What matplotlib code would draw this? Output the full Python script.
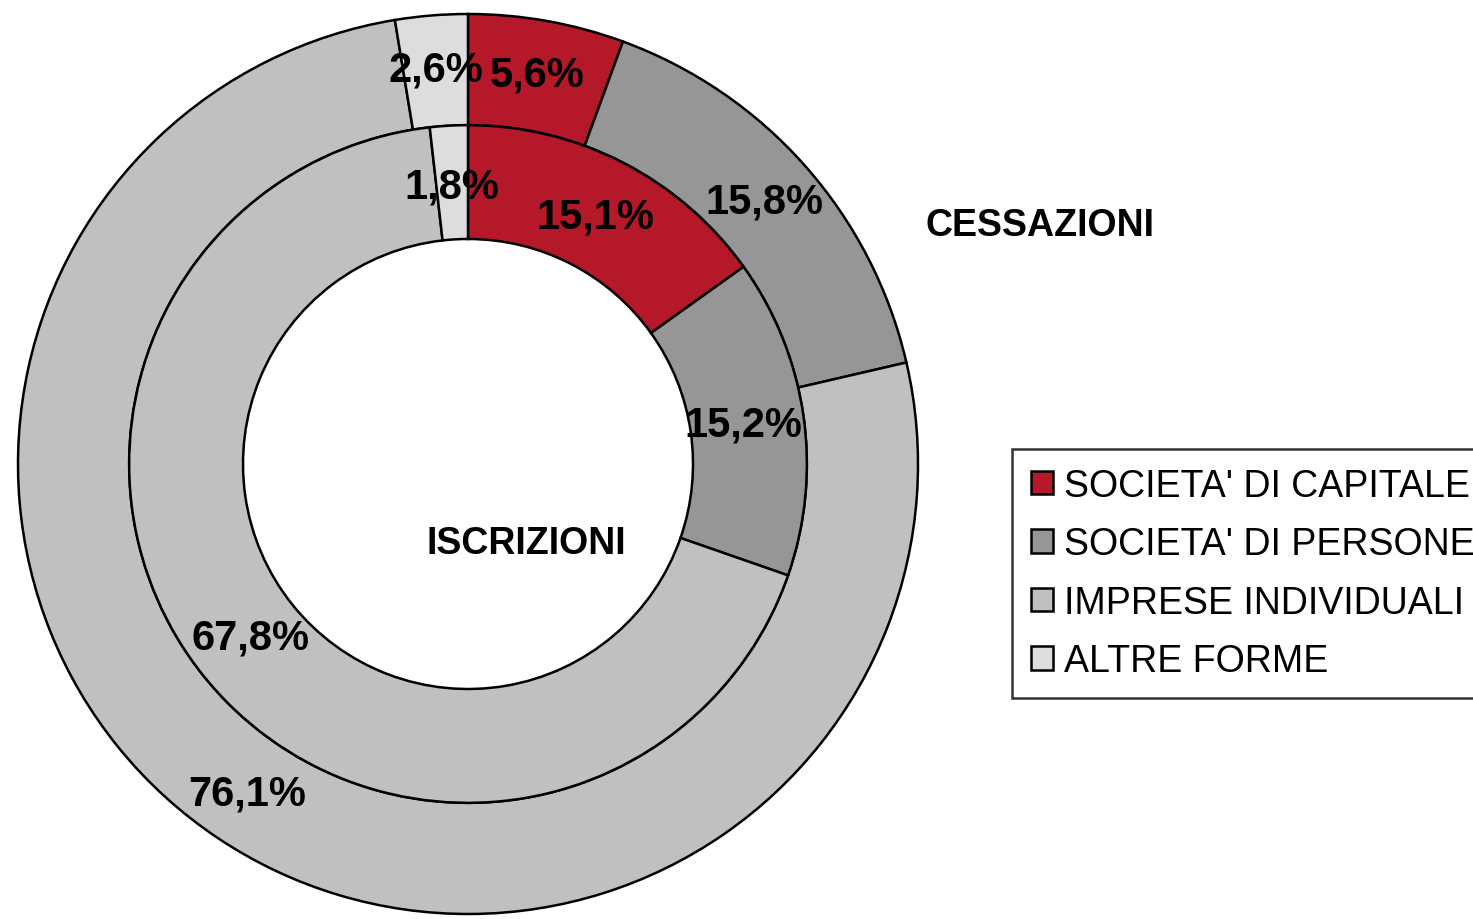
import matplotlib
matplotlib.use("Agg")
import matplotlib.pyplot as plt

plt.rcParams['font.family'] = ['Liberation Sans', 'DejaVu Sans']

# categories and shares (%)
categories = ["SOCIETA' DI CAPITALE", "SOCIETA' DI PERSONE",
              "IMPRESE INDIVIDUALI", "ALTRE FORME"]
iscrizioni = [15.1, 15.2, 67.8, 1.8]   # inner ring
cessazioni = [5.6, 15.8, 76.1, 2.6]    # outer ring
colors = ['#B51828', '#969696', '#C0C0C0', '#DDDDDD']


def pct_label(values):
    it = iter(values)
    return lambda p: f"{next(it):.1f}".replace('.', ',') + '%'


fig = plt.figure(figsize=(14.73, 9.2), dpi=100)
# pie axes: centre ~ (468, 465) px, outer radius ~ 450 px
cx, cy, r = 468, 465, 450
ax = fig.add_axes([(cx - r) / 1473, (920 - cy - r) / 920, 2 * r / 1473, 2 * r / 920])

edge = dict(edgecolor='black', linewidth=1.8)

outer, _, outer_txt = ax.pie(cessazioni, radius=1.0, colors=colors, startangle=90,
                             counterclock=False, autopct=pct_label(cessazioni),
                             pctdistance=0.88, wedgeprops=dict(width=0.247, **edge),
                             textprops=dict(fontsize=30, fontweight='bold', color='black'))
inner, _, inner_txt = ax.pie(iscrizioni, radius=0.753, colors=colors, startangle=90,
                             counterclock=False, autopct=pct_label(iscrizioni),
                             pctdistance=0.82, wedgeprops=dict(width=0.253, **edge),
                             textprops=dict(fontsize=30, fontweight='bold', color='black'))
ax.set_xlim(-1, 1)
ax.set_ylim(-1, 1)
ax.set_aspect('equal')
ax.axis('off')

fig.text(1040 / 1473, 1 - 226 / 920, 'CESSAZIONI', fontsize=27, fontweight='bold',
         ha='center', va='center')
fig.text(526 / 1473, 1 - 544 / 920, 'ISCRIZIONI', fontsize=27, fontweight='bold',
         ha='center', va='center')

leg = fig.legend(inner, categories, loc='upper left',
                 bbox_to_anchor=(1012 / 1473, 1 - 450 / 920), borderaxespad=0,
                 fontsize=27, frameon=True, fancybox=False, shadow=False,
                 handlelength=0.6, handleheight=0.6, handletextpad=0.3,
                 labelspacing=0.6, borderpad=0.5)
leg.get_frame().set_edgecolor('black')
leg.get_frame().set_linewidth(1.8)
for h in leg.legend_handles:
    h.set_edgecolor('black')
    h.set_linewidth(1.8)

fig.savefig('out.png', dpi=100)
